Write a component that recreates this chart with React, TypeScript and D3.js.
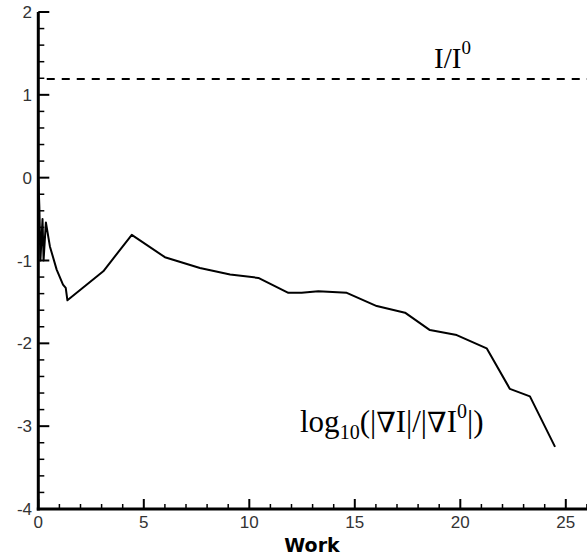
import React from "react";
import * as d3 from "d3";

// Convergence history: log of relative gradient norm versus work units
const workValues = [
  0, 0.05, 0.1, 0.2, 0.25, 0.36, 0.55, 0.87, 1.17, 1.3, 1.38, 3.08, 4.43, 6.0,
  7.66, 9.09, 10.43, 11.85, 12.48, 13.27, 14.62, 16.04, 17.38, 18.56, 19.83,
  21.25, 22.35, 23.3, 24.49,
];
const gradValues = [
  0, -0.35, -1.0, -0.5, -1.0, -0.54, -0.83, -1.11, -1.29, -1.33, -1.48, -1.13,
  -0.69, -0.96, -1.09, -1.17, -1.21, -1.39, -1.39, -1.37, -1.39, -1.55, -1.63,
  -1.84, -1.9, -2.06, -2.55, -2.64, -3.25,
];
// Relative functional value (constant reference level)
const funcLevel = 1.19;
const funcStart = 0.4;

const xTicks = [0, 5, 10, 15, 20, 25];
const yTicks = [2, 1, 0, -1, -2, -3, -4];

const W = 587;
const H = 556;

export default function App() {
  const x = d3.scaleLinear().domain([0, 26]).range([38.3, 586.9]);
  const y = d3.scaleLinear().domain([-4, 2]).range([509, 12]);

  const pts = workValues.map((w, i) => [w, gradValues[i]] as [number, number]);
  const line = d3
    .line<[number, number]>()
    .x((d) => x(d[0]))
    .y((d) => y(d[1]));

  const xMinor = d3.range(0, 27, 1).filter((v) => v % 5 !== 0);
  const yMinor = d3
    .range(-4, 2.001, 0.2)
    .map((v) => Math.round(v * 10) / 10)
    .filter((v) => Math.abs(v - Math.round(v)) > 1e-6);

  const x0 = x(0);
  const yb = y(-4);
  const tickFont = "'Liberation Sans', Arial, sans-serif";
  const serif = "'Liberation Serif', 'Times New Roman', serif";
  const nabla = "'DejaVu Serif', serif";

  return (
    <svg
      width={W}
      height={H}
      style={{ position: "absolute", left: 0, top: 0, background: "#fff" }}
    >
      <rect width={W} height={H} fill="#fff" />

      {/* reference level of the functional */}
      <line
        x1={x(funcStart)}
        x2={W}
        y1={y(funcLevel)}
        y2={y(funcLevel)}
        stroke="#000"
        strokeWidth={2}
        strokeDasharray="8,7"
      />

      {/* gradient history */}
      <path d={line(pts) ?? ""} fill="none" stroke="#000" strokeWidth={2} strokeLinejoin="round" />

      {/* axes */}
      <line x1={x0} x2={x0} y1={y(2)} y2={yb + 1.5} stroke="#000" strokeWidth={3} />
      <line x1={x0 - 1.5} x2={W} y1={yb} y2={yb} stroke="#000" strokeWidth={3} />

      {yTicks.map((t) => (
        <line key={"ym" + t} x1={x0} x2={x0 + 11} y1={y(t)} y2={y(t)} stroke="#000" strokeWidth={2} />
      ))}
      {yMinor.map((t) => (
        <line key={"yn" + t} x1={x0} x2={x0 + 6} y1={y(t)} y2={y(t)} stroke="#000" strokeWidth={1.5} />
      ))}
      {xTicks.map((t) => (
        <line key={"xm" + t} x1={x(t)} x2={x(t)} y1={yb} y2={yb - 10} stroke="#000" strokeWidth={2} />
      ))}
      {xMinor.map((t) => (
        <line key={"xn" + t} x1={x(t)} x2={x(t)} y1={yb} y2={yb - 5} stroke="#000" strokeWidth={1.5} />
      ))}

      {yTicks.map((t) => (
        <text
          key={"yl" + t}
          x={32}
          y={y(t) + 6}
          textAnchor="end"
          fontFamily={tickFont}
          fontSize={17}
          fill="#333"
        >
          {t}
        </text>
      ))}
      {xTicks.map((t) => (
        <text
          key={"xl" + t}
          x={x(t)}
          y={528}
          textAnchor="middle"
          fontFamily={tickFont}
          fontSize={17}
          fill="#333"
        >
          {t}
        </text>
      ))}

      <text
        x={312}
        y={552}
        textAnchor="middle"
        fontFamily="'DejaVu Sans', Verdana, sans-serif"
        fontWeight="bold"
        fontSize={19}
        fill="#000"
      >
        Work
      </text>

      {/* series labels */}
      <text x={434} y={68} fontFamily={serif} fontSize={29} fill="#000">
        I/I
        <tspan fontSize={19} dy={-14}>0</tspan>
      </text>
      <text x={300} y={432} fontFamily={serif} fontSize={31} fill="#000">
        log
        <tspan fontSize={20} dy={7}>10</tspan>
        <tspan dy={-7}>(|</tspan>
        <tspan fontFamily={nabla} fontWeight="normal" fontSize={28}>∇</tspan>
        <tspan>I|/|</tspan>
        <tspan fontFamily={nabla} fontSize={28}>∇</tspan>
        <tspan>I</tspan>
        <tspan fontSize={20} dy={-14}>0</tspan>
        <tspan dy={14}>|)</tspan>
      </text>
    </svg>
  );
}
